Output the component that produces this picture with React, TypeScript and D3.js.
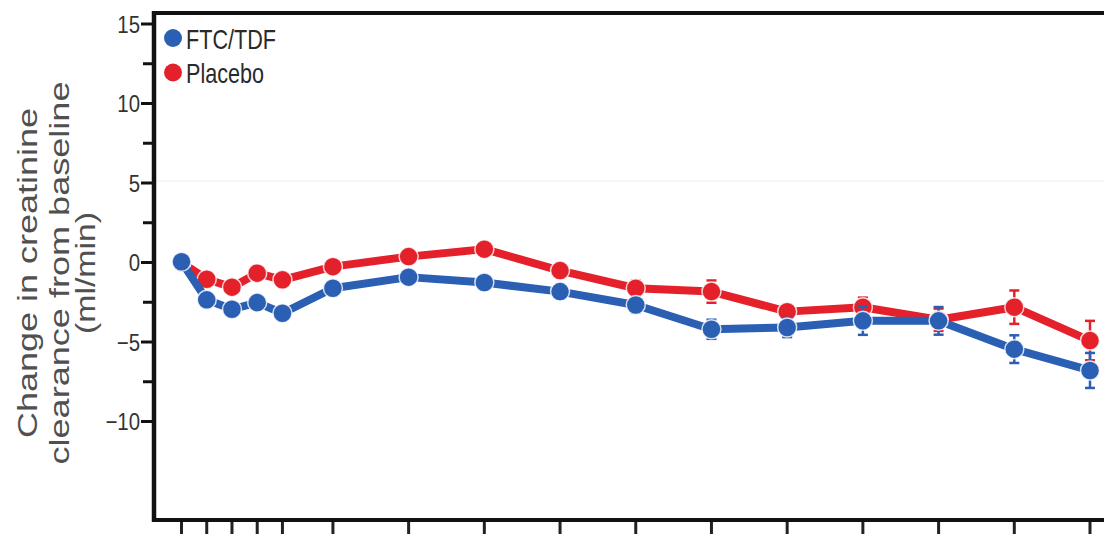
import React from "react";
import * as d3 from "d3";

const weeks = [0, 4, 8, 12, 16, 24, 36, 48, 60, 72, 84, 96, 108, 120, 132, 144];
const ftcTdf = [0.05, -2.35, -2.94, -2.52, -3.19, -1.62, -0.92, -1.26, -1.83, -2.67, -4.2, -4.09, -3.67, -3.67, -5.45, -6.79];
const ftcTdfSE = [0.3, 0.4, 0.4, 0.4, 0.4, 0.4, 0.4, 0.4, 0.45, 0.5, 0.6, 0.6, 0.88, 0.87, 0.87, 1.1];
const placebo = [0.0, -1.05, -1.55, -0.67, -1.09, -0.26, 0.37, 0.84, -0.51, -1.62, -1.83, -3.09, -2.81, -3.6, -2.81, -4.91];
const placeboSE = [0.3, 0.4, 0.4, 0.4, 0.4, 0.4, 0.4, 0.4, 0.45, 0.5, 0.7, 0.45, 0.6, 0.7, 1.05, 1.24];
const yMajorTicks = [15, 10, 5, 0, -5, -10];
const yMinorTicks = [12.5, 7.5, 2.5, -2.5, -7.5];
const seriesNames = ["FTC/TDF", "Placebo"];
const yLabelLines = ["Change in creatinine", "clearance from baseline", "(ml/min)"];

const BLUE = "#2a5fb4";
const RED = "#e4212b";

export default function App() {
  const x = d3.scaleLinear().domain([0, 144]).range([181.5, 1090]);
  const y = d3.scaleLinear().domain([-10, 15]).range([421.5, 24]);
  const axisX = 154;
  const axisBottom = 520;
  const frameTop = 13;

  const line = d3
    .line<number>()
    .x((_, i) => x(weeks[i]))
    .y((d) => y(d));

  const series = [
    { name: seriesNames[1], vals: placebo, se: placeboSE, color: RED },
    { name: seriesNames[0], vals: ftcTdf, se: ftcTdfSE, color: BLUE },
  ];

  const font = "Arial, 'Liberation Sans', Helvetica, sans-serif";
  const labelLens = [330, 383, 122];
  const labelX = [37, 69, 95];

  return (
    <svg
      width={1104}
      height={555}
      style={{ position: "absolute", left: 0, top: 0, background: "#fff" }}
      fontFamily={font}
    >
      <rect x={0} y={0} width={1104} height={555} fill="#fff" />
      {/* faint artifact line at 5 */}
      <line x1={axisX} x2={1104} y1={y(5) - 2} y2={y(5) - 2} stroke="#ececec" strokeWidth={1} />

      {/* Y axis label */}
      {yLabelLines.map((t, i) => (
        <text
          key={t}
          transform={`translate(${labelX[i]},273) rotate(-90)`}
          textAnchor="middle"
          fontSize={27}
          fill="#505050"
          textLength={labelLens[i]}
          lengthAdjust="spacingAndGlyphs"
        >
          {t}
        </text>
      ))}

      {/* Y ticks */}
      {yMajorTicks.map((t) => (
        <g key={"M" + t}>
          <line x1={axisX - 13} x2={axisX} y1={y(t)} y2={y(t)} stroke="#111" strokeWidth={3} />
          <g transform={`translate(140,${y(t) + 8.5}) scale(0.85,1)`}>
            <text textAnchor="end" fontSize={24} fill="#333">
              {t < 0 ? "\u2212" + Math.abs(t) : String(t)}
            </text>
          </g>
        </g>
      ))}
      {yMinorTicks.map((t) => (
        <line key={"m" + t} x1={axisX - 11} x2={axisX} y1={y(t)} y2={y(t)} stroke="#111" strokeWidth={3} />
      ))}

      {/* X ticks */}
      {weeks.map((w) => (
        <line key={"x" + w} x1={x(w)} x2={x(w)} y1={axisBottom} y2={axisBottom + 14} stroke="#222" strokeWidth={3} />
      ))}

      {/* Frame */}
      <line x1={axisX} x2={1104} y1={frameTop} y2={frameTop} stroke="#111" strokeWidth={4} />
      <line x1={axisX} x2={axisX} y1={frameTop - 2} y2={axisBottom + 2} stroke="#111" strokeWidth={4.5} />
      <line x1={axisX - 2} x2={1104} y1={axisBottom} y2={axisBottom} stroke="#111" strokeWidth={4} />

      {/* Series */}
      {series.map((s) => (
        <g key={s.name}>
          {s.vals.map((v, i) => (
            <g key={"e" + i} stroke={s.color} strokeWidth={2.5}>
              <line x1={x(weeks[i])} x2={x(weeks[i])} y1={y(v + s.se[i])} y2={y(v - s.se[i])} />
              <line x1={x(weeks[i]) - 5} x2={x(weeks[i]) + 5} y1={y(v + s.se[i])} y2={y(v + s.se[i])} />
              <line x1={x(weeks[i]) - 5} x2={x(weeks[i]) + 5} y1={y(v - s.se[i])} y2={y(v - s.se[i])} />
            </g>
          ))}
          <path d={line(s.vals) || ""} fill="none" stroke={s.color} strokeWidth={8} strokeLinejoin="round" />
          {s.vals.map((v, i) => (
            <circle
              key={"c" + i}
              cx={x(weeks[i])}
              cy={y(v)}
              r={9.5}
              fill={s.color}
              stroke="#fff"
              strokeWidth={1.5}
              strokeOpacity={0.8}
            />
          ))}
        </g>
      ))}

      {/* Legend */}
      {[BLUE, RED].map((c, i) => (
        <g key={"lg" + i}>
          <circle cx={173} cy={38 + i * 34.5} r={9} fill={c} />
          <g transform={`translate(186,${48.5 + i * 34}) scale(0.8,1)`}>
            <text fontSize={27} fill="#2a2a2a">
              {seriesNames[i]}
            </text>
          </g>
        </g>
      ))}
    </svg>
  );
}
